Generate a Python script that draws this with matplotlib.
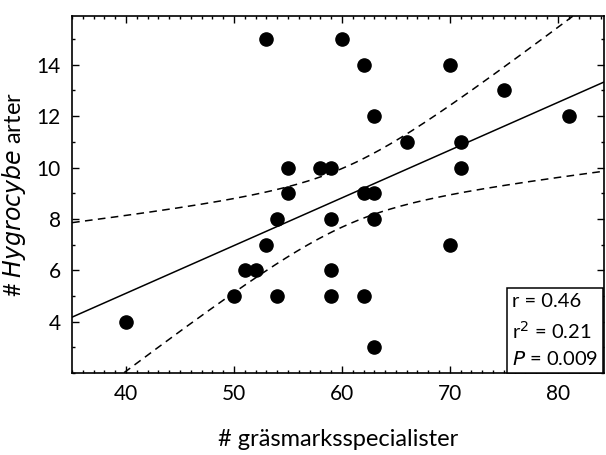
import numpy as np
import matplotlib.pyplot as plt
from matplotlib.ticker import MultipleLocator

plt.rcParams['font.family'] = ['Lato', 'DejaVu Sans']

# grassland specialists vs Hygrocybe species
specialists = [53, 60, 62, 70, 75, 63, 81, 66, 71, 55, 58, 59, 71, 55, 62,
               63, 54, 59, 63, 53, 70, 51, 52, 59, 50, 54, 59, 62, 40, 63]
hygrocybe = [15, 15, 14, 14, 13, 12, 12, 11, 11, 10, 10, 10, 10, 9, 9,
             9, 8, 8, 8, 7, 7, 6, 6, 6, 5, 5, 5, 5, 4, 3]
stats_text = ["r = 0.46", "r$^2$ = 0.21", "$\\it{P}$ = 0.009"]

x = np.array(specialists, dtype=float)
y = np.array(hygrocybe, dtype=float)
n = len(x)
slope, intercept = np.polyfit(x, y, 1)
resid = y - (slope * x + intercept)
s = np.sqrt(np.sum(resid ** 2) / (n - 2))
sxx = np.sum((x - x.mean()) ** 2)
t = 2.048  # t(0.975, 28)

xs = np.linspace(35, 84.3, 200)
yfit = slope * xs + intercept
half = t * s * np.sqrt(1 / n + (xs - x.mean()) ** 2 / sxx)

fig = plt.figure(figsize=(6.06, 4.55), dpi=100)
ax = fig.add_axes([0.119, 0.180, 0.878, 0.785])

ax.plot(xs, yfit, color='black', lw=1.1)
ax.plot(xs, yfit + half, color='black', lw=1.1, ls=(0, (5, 3.5)))
ax.plot(xs, yfit - half, color='black', lw=1.1, ls=(0, (5, 3.5)))
ax.scatter(x, y, s=90, color='black', zorder=3)

ax.set_xlim(35, 84.3)
ax.set_ylim(2, 15.9)
ax.xaxis.set_major_locator(MultipleLocator(10))
ax.xaxis.set_minor_locator(MultipleLocator(1))
ax.yaxis.set_major_locator(MultipleLocator(2))
ax.yaxis.set_minor_locator(MultipleLocator(1))
ax.set_yticks([4, 6, 8, 10, 12, 14])
ax.tick_params(which='both', direction='in', top=True, right=True, width=1)
ax.tick_params(which='major', length=5, labelsize=15, pad=8)
ax.tick_params(which='minor', length=2.5)
for sp in ax.spines.values():
    sp.set_linewidth(1.2)

ax.set_xlabel('# gräsmarksspecialister', fontsize=17, labelpad=18)
ax.set_ylabel('# $\\it{Hygrocybe}$ arter', fontsize=17, labelpad=6)

ax.text(0.826, 0.014, '\n'.join(stats_text), transform=ax.transAxes,
        ha='left', va='bottom', fontsize=14.5, linespacing=1.55,
        bbox=dict(boxstyle='square,pad=0.25', fc='white', ec='black', lw=1.1))

fig.savefig('out.png', dpi=100)
